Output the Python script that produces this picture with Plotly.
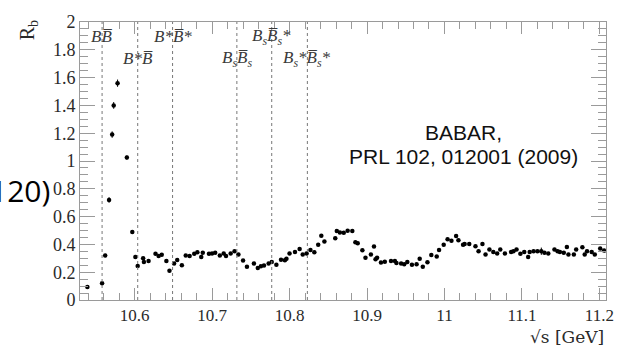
import plotly.graph_objects as go

# ---------------- data ----------------
energy = [
    10.539, 10.558, 10.562, 10.567, 10.571, 10.573, 10.578, 10.590, 10.597, 10.601,
    10.604, 10.611, 10.612, 10.618, 10.627, 10.631, 10.635, 10.641, 10.645, 10.651,
    10.655, 10.661, 10.666, 10.671, 10.677, 10.681, 10.686, 10.688, 10.696, 10.700,
    10.704, 10.710, 10.715, 10.718, 10.724, 10.729, 10.734, 10.740, 10.745, 10.754,
    10.759, 10.763, 10.767, 10.773, 10.777, 10.783, 10.789, 10.794, 10.796, 10.800,
    10.807, 10.813, 10.817, 10.822, 10.827, 10.832, 10.837, 10.841, 10.845, 10.859,
    10.861, 10.865, 10.870, 10.875, 10.881, 10.885, 10.888, 10.894, 10.898, 10.905,
    10.909, 10.911, 10.913, 10.918, 10.923, 10.931, 10.936, 10.938, 10.944, 10.948,
    10.952, 10.958, 10.964, 10.968, 10.972, 10.978, 10.983, 10.990, 10.993, 10.999,
    11.004, 11.009, 11.015, 11.018, 11.024, 11.026, 11.032, 11.040, 11.044, 11.049,
    11.053, 11.058, 11.063, 11.068, 11.072, 11.078, 11.086, 11.089, 11.093, 11.098,
    11.103, 11.108, 11.110, 11.115, 11.120, 11.125, 11.129, 11.134, 11.142, 11.146,
    11.149, 11.154, 11.158, 11.160, 11.167, 11.170, 11.178, 11.181, 11.184, 11.190,
    11.194, 11.201, 11.206,
]

rb = [
    0.093, 0.120, 0.320, 0.720, 1.190, 1.400, 1.560, 1.025, 0.490, 0.310,
    0.245, 0.300, 0.274, 0.280, 0.332, 0.316, 0.325, 0.280, 0.210, 0.262,
    0.288, 0.250, 0.320, 0.316, 0.332, 0.344, 0.310, 0.340, 0.332, 0.335,
    0.340, 0.320, 0.335, 0.316, 0.335, 0.350, 0.328, 0.285, 0.240, 0.262,
    0.230, 0.243, 0.248, 0.262, 0.274, 0.253, 0.290, 0.286, 0.297, 0.335,
    0.346, 0.367, 0.328, 0.335, 0.360, 0.344, 0.398, 0.463, 0.420, 0.444,
    0.496, 0.486, 0.484, 0.498, 0.496, 0.416, 0.409, 0.358, 0.304, 0.328,
    0.384, 0.293, 0.304, 0.269, 0.276, 0.280, 0.280, 0.267, 0.262, 0.257,
    0.274, 0.253, 0.257, 0.297, 0.239, 0.271, 0.323, 0.313, 0.360, 0.398,
    0.437, 0.426, 0.461, 0.430, 0.398, 0.402, 0.402, 0.386, 0.351, 0.402,
    0.328, 0.363, 0.346, 0.335, 0.363, 0.335, 0.346, 0.351, 0.363, 0.332,
    0.346, 0.309, 0.346, 0.351, 0.351, 0.351, 0.340, 0.335, 0.363, 0.351,
    0.346, 0.340, 0.381, 0.328, 0.328, 0.363, 0.379, 0.328, 0.351, 0.346,
    0.328, 0.370, 0.356,
]

rb_err = [
    0.008, 0.010, 0.012, 0.020, 0.023, 0.024, 0.026, 0.015, 0.012, 0.010,
    0.010, 0.010, 0.010, 0.010, 0.010, 0.010, 0.010, 0.010, 0.010, 0.010,
    0.010, 0.010, 0.010, 0.010, 0.010, 0.010, 0.010, 0.010, 0.010, 0.010,
    0.010, 0.010, 0.010, 0.010, 0.010, 0.010, 0.010, 0.010, 0.010, 0.010,
    0.010, 0.010, 0.010, 0.010, 0.010, 0.010, 0.010, 0.010, 0.010, 0.010,
    0.010, 0.010, 0.010, 0.010, 0.010, 0.010, 0.010, 0.010, 0.010, 0.010,
    0.010, 0.010, 0.010, 0.010, 0.010, 0.010, 0.010, 0.010, 0.010, 0.010,
    0.010, 0.010, 0.010, 0.010, 0.010, 0.010, 0.010, 0.010, 0.010, 0.010,
    0.010, 0.010, 0.010, 0.010, 0.010, 0.010, 0.010, 0.010, 0.010, 0.010,
    0.010, 0.010, 0.010, 0.010, 0.010, 0.010, 0.010, 0.010, 0.010, 0.010,
    0.010, 0.010, 0.010, 0.010, 0.010, 0.010, 0.010, 0.010, 0.010, 0.010,
    0.010, 0.010, 0.010, 0.010, 0.010, 0.026, 0.010, 0.010, 0.010, 0.010,
    0.010, 0.010, 0.010, 0.010, 0.010, 0.010, 0.010, 0.010, 0.010, 0.010,
    0.010, 0.010, 0.010,
]

thresholds = [10.558, 10.604, 10.649, 10.732, 10.777, 10.823]
threshold_labels = [
    "<i>BB\u0305</i>",
    "<i>B*B\u0305</i>",
    "<i>B*B\u0305*</i>",
    "<i>B<sub>s</sub>B\u0305<sub>s</sub></i>",
    "<i>B<sub>s</sub>B\u0305<sub>s</sub>*</i>",
    "<i>B<sub>s</sub>*B\u0305<sub>s</sub>*</i>",
]
label_rows = [0, 1, 0, 1, 0, 1]

x_tickvals = [10.6, 10.7, 10.8, 10.9, 11.0, 11.1, 11.2]
x_ticktext = ["10.6", "10.7", "10.8", "10.9", "11", "11.1", "11.2"]
y_tickvals = [0, 0.2, 0.4, 0.6, 0.8, 1.0, 1.2, 1.4, 1.6, 1.8, 2.0]
y_ticktext = ["0", "0.2", "0.4", "0.6", "0.8", "1", "1.2", "1.4", "1.6", "1.8", "2"]

# ---------------- figure ----------------
SERIF = "Liberation Serif"
SANS = "Liberation Sans"
AX = "#9a9a9a"
TXT = "#2a2a2a"

fig = go.Figure()
fig.add_trace(go.Scatter(
    x=energy, y=rb, mode="markers",
    marker=dict(color="black", size=4.5, symbol="circle"),
    error_y=dict(type="data", array=rb_err, color="black", thickness=1, width=0),
    showlegend=False,
))

for t in thresholds:
    fig.add_shape(type="line", xref="x", yref="y", x0=t, x1=t, y0=0, y1=2,
                  line=dict(color="#777777", width=1, dash="dot"))

row_y = [0.947, 0.867]
for t, lab, r in zip(thresholds, threshold_labels, label_rows):
    fig.add_annotation(x=t, y=row_y[r], xref="x", yref="paper", text=lab,
                       showarrow=False, xanchor="center", yanchor="middle",
                       font=dict(family=SERIF, size=17, color="#3a3a3a"))

fig.add_annotation(x=0.73, y=0.6035, xref="paper", yref="paper", text="BABAR,",
                   showarrow=False, xanchor="center", yanchor="middle",
                   font=dict(family=SANS, size=21, color="#111"))
fig.add_annotation(x=0.73, y=0.516, xref="paper", yref="paper",
                   text="PRL 102, 012001 (2009)",
                   showarrow=False, xanchor="center", yanchor="middle",
                   font=dict(family=SANS, size=21, color="#111"))

fig.add_annotation(x=-0.098, y=0.972, xref="paper", yref="paper",
                   text="R<sub>b</sub>", textangle=-90, showarrow=False,
                   xanchor="center", yanchor="middle",
                   font=dict(family=SERIF, size=20, color=TXT))
fig.add_annotation(x=1.0, y=-0.133, xref="paper", yref="paper",
                   text="\u221as [GeV]", showarrow=False,
                   xanchor="right", yanchor="middle",
                   font=dict(family="DejaVu Serif", size=17, color=TXT))

fig.add_annotation(x=-0.053, y=0.393, xref="paper", yref="paper",
                   text="120)", showarrow=False, xanchor="right", yanchor="middle",
                   font=dict(family="Open Sans", size=30, color="black"))

fig.update_layout(
    width=626, height=346,
    margin=dict(l=80, r=17, t=15, b=46),
    paper_bgcolor="white", plot_bgcolor="white",
    xaxis=dict(
        range=[10.5295, 11.2085], tickvals=x_tickvals, ticktext=x_ticktext,
        ticks="inside", ticklen=12, tickcolor=AX, tickwidth=1,
        showline=True, linecolor=AX, linewidth=1, mirror="ticks",
        showgrid=False, zeroline=False,
        tickfont=dict(family=SERIF, size=17, color=TXT),
        minor=dict(dtick=0.02, tick0=10.6, ticks="inside", ticklen=7, tickcolor=AX, showgrid=False),
    ),
    yaxis=dict(
        range=[0, 2.0], tickvals=y_tickvals, ticktext=y_ticktext,
        ticks="inside", ticklen=15, tickcolor=AX, tickwidth=1,
        showline=True, linecolor=AX, linewidth=1, mirror="ticks",
        showgrid=False, zeroline=False,
        tickfont=dict(family=SERIF, size=18, color=TXT),
        minor=dict(dtick=0.05, tick0=0, ticks="inside", ticklen=8, tickcolor=AX, showgrid=False),
    ),
)

fig.write_html("out.html")
